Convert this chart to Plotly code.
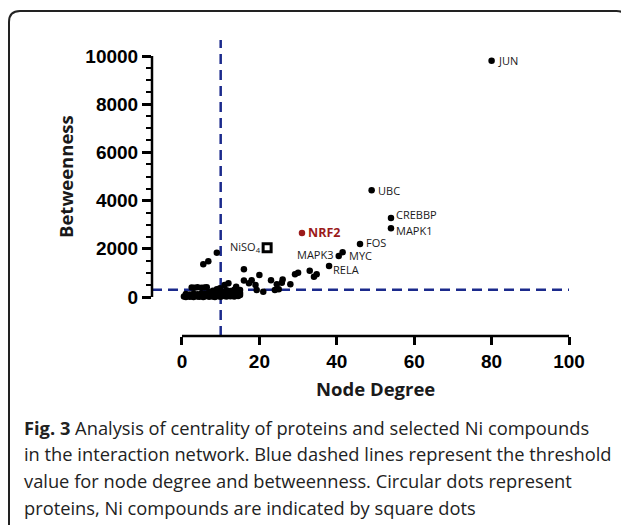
import plotly.graph_objects as go

# ---------------- data ----------------
# labelled proteins
lab_names = ["JUN", "UBC", "CREBBP", "MAPK1", "FOS", "MYC", "MAPK3", "RELA"]
lab_degree = [80, 49, 54, 54, 46, 41.5, 40.5, 38]
lab_betw = [9800, 4430, 3280, 2850, 2200, 1860, 1700, 1290]

# NRF2 (highlighted)
nrf2_degree = [31]
nrf2_betw = [2660]

# Ni compound (square)
ni_names = ["NiSO<sub>4</sub>"]
ni_degree = [22]
ni_betw = [2040]

# other proteins (unlabelled)
prot_degree = [9, 5.5, 6.8, 16, 20, 16, 18, 17.3, 19, 19.3, 23, 24.5, 24, 25,
               26, 25.8, 28, 29.2, 30, 33, 34.8, 34.1, 21, 15, 14.5, 14, 12, 11,
               9.8, 9, 8,
               2.5, 3.2, 4, 5, 5.8, 6.4,
               0.5, 1, 1.5, 2, 2.5, 3, 3.5, 4, 4.5, 5, 5.5, 6, 6.5, 7, 7.5, 8,
               8.5, 9, 9.5, 10, 10.5, 11, 11.5, 12, 12.5, 13, 13.5, 14, 14.5, 15,
               1, 2, 3, 4, 5, 6, 7, 8, 9, 10, 11, 12, 13, 14, 15,
               7, 8, 10.5, 11.5, 12.5, 13.5]
prot_betw = [1840, 1360, 1480, 1150, 910, 680, 700, 570, 500, 290, 700, 530, 290, 320,
             730, 590, 530, 940, 1010, 1090, 940, 840, 220, 290, 150, 430, 570, 500,
             360, 320, 260,
             390, 380, 400, 380, 390, 400,
             20, 0, 40, 10, 30, 0, 50, 20, 10, 40, 0, 30, 60, 10, 40, 20,
             0, 50, 30, 10, 60, 40, 20, 70, 30, 50, 20, 60, 40, 80,
             120, 100, 140, 110, 150, 120, 160, 130, 110, 150, 130, 160, 120, 140, 170,
             200, 240, 230, 280, 250, 300]

# thresholds
deg_threshold = 10
betw_threshold = 300

# axis ticks
y_ticks = [0, 2000, 4000, 6000, 8000, 10000]
y_minor = [500, 1000, 1500, 2500, 3000, 3500, 4500, 5000, 5500, 6500, 7000, 7500,
           8500, 9000, 9500]
x_ticks = [0, 20, 40, 60, 80, 100]

caption_lines = [
    "<b>Fig. 3</b> Analysis of centrality of proteins and selected Ni compounds",
    "in the interaction network. Blue dashed lines represent the threshold",
    "value for node degree and betweenness. Circular dots represent",
    "proteins, Ni compounds are indicated by square dots",
]

# label placement style (anchor side, x pixel shift, y pixel shift)
label_style = {
    "JUN": ("left", 5, 0), "UBC": ("left", 5, 0), "CREBBP": ("left", 4, 3),
    "MAPK1": ("left", 4, -2.5), "FOS": ("left", 5, 1), "MYC": ("left", 5, -3),
    "MAPK3": ("right", -4, 2), "RELA": ("left", 3, -4),
}

# ---------------- layout helpers ----------------
OFF = 8                      # page body margin
W, H = 629 - OFF, 525 - OFF
ML = 152 - OFF
MT = 40 - OFF
MB = H - (336 - OFF)
MR = W - (575 - OFF)
PW = W - ML - MR
PH = H - MT - MB
X_RANGE = [-7.75, 101.55]
Y_RANGE = [-1618, 10664]


def px_x(p):
    return (p - OFF - ML) / PW


def px_y(p):
    return (H - MB - (p - OFF)) / PH


BLUE = "#1b2a8c"
TXT = "#1a1a1a"
RED = "#9b1a1a"

fig = go.Figure()

fig.add_trace(go.Scatter(
    x=prot_degree, y=prot_betw, mode="markers",
    marker=dict(color="black", size=6.5), hoverinfo="skip", showlegend=False))

fig.add_trace(go.Scatter(
    x=lab_degree, y=lab_betw, mode="markers", text=lab_names,
    marker=dict(color="black", size=6.5), showlegend=False))

fig.add_trace(go.Scatter(
    x=nrf2_degree, y=nrf2_betw, mode="markers", text=["NRF2"],
    marker=dict(color=RED, size=6.5), showlegend=False))

fig.add_trace(go.Scatter(
    x=ni_degree, y=ni_betw, mode="markers", text=ni_names,
    marker=dict(symbol="square", color="white", size=8,
                line=dict(color="black", width=3)), showlegend=False))

annotations = []
for name, xv, yv in zip(lab_names, lab_degree, lab_betw):
    side, xs, ys = label_style[name]
    annotations.append(dict(text=name, x=xv, y=yv, xref="x", yref="y",
                            showarrow=False, xanchor=side, yanchor="middle",
                            xshift=xs, yshift=ys, borderpad=0,
                            font=dict(family="Open Sans", size=11, color=TXT)))
annotations.append(dict(text="<b>NRF2</b>", x=nrf2_degree[0], y=nrf2_betw[0],
                        xref="x", yref="y", showarrow=False, xanchor="left",
                        yanchor="middle", xshift=5, borderpad=0,
                        font=dict(family="Open Sans", size=12.5, color=RED)))
annotations.append(dict(text=ni_names[0], x=ni_degree[0], y=ni_betw[0],
                        xref="x", yref="y", showarrow=False, xanchor="right",
                        yanchor="middle", xshift=-5, yshift=1, borderpad=0,
                        font=dict(family="Open Sans", size=11, color=TXT)))

shapes = []
# threshold lines
shapes.append(dict(type="line", xref="x", yref="y", x0=X_RANGE[0], x1=x_ticks[-1],
                   y0=betw_threshold, y1=betw_threshold,
                   line=dict(color=BLUE, width=2.5, dash="10px,6px"), layer="below"))
shapes.append(dict(type="line", xref="x", yref="y", x0=deg_threshold, x1=deg_threshold,
                   y0=Y_RANGE[0], y1=Y_RANGE[1],
                   line=dict(color=BLUE, width=2.5, dash="10px,6px"), layer="below"))
# axis lines (Prism-style, offset)
shapes.append(dict(type="line", xref="paper", yref="y", x0=0, x1=0,
                   y0=y_ticks[0], y1=y_ticks[-1], line=dict(color="black", width=2.5)))
shapes.append(dict(type="line", xref="x", yref="paper", x0=x_ticks[0], x1=x_ticks[-1],
                   y0=0, y1=0, line=dict(color="black", width=2.5)))
# figure border (rounded box)
bx0, bx1, by0, by1, r = 9, 627.5, 11, 540, 11
path = (f"M {px_x(bx0)},{px_y(by1)} L {px_x(bx0)},{px_y(by0 + r)} "
        f"Q {px_x(bx0)},{px_y(by0)} {px_x(bx0 + r)},{px_y(by0)} "
        f"L {px_x(bx1 - r)},{px_y(by0)} "
        f"Q {px_x(bx1)},{px_y(by0)} {px_x(bx1)},{px_y(by0 + r)} "
        f"L {px_x(bx1)},{px_y(by1)}")
shapes.append(dict(type="path", xref="paper", yref="paper", path=path,
                   line=dict(color="#222222", width=2)))

annotations.append(dict(text="<b>Betweenness</b>", xref="paper", yref="paper",
                        x=px_x(65), y=px_y(177), textangle=-90, showarrow=False,
                        font=dict(family="Open Sans", size=18.5, color=TXT),
                        xanchor="center", yanchor="middle"))
annotations.append(dict(text="<b>Node Degree</b>", xref="paper", yref="paper",
                        x=px_x(375.5), y=px_y(388), showarrow=False,
                        font=dict(family="Open Sans", size=18.5, color=TXT),
                        xanchor="center", yanchor="middle"))
for i, line in enumerate(caption_lines):
    annotations.append(dict(text=line, xref="paper", yref="paper",
                            x=px_x(22), y=px_y(427 + i * 26.7), showarrow=False,
                            font=dict(family="Open Sans", size=18.3, color="#222222"),
                            xanchor="left", yanchor="middle", align="left"))

fig.update_layout(
    width=W, height=H,
    margin=dict(l=ML, r=MR, t=MT, b=MB, pad=0),
    paper_bgcolor="white", plot_bgcolor="white",
    shapes=shapes, annotations=annotations,
    xaxis=dict(range=X_RANGE, showgrid=False, zeroline=False, showline=False,
               tickvals=x_ticks, ticktext=[str(v) for v in x_ticks],
               ticks="outside", ticklen=8, tickwidth=2.5, tickcolor="black",
               tickfont=dict(family="Liberation Sans", size=19, color="black", weight="bold")),
    yaxis=dict(range=Y_RANGE, showgrid=False, zeroline=False, showline=False,
               tickvals=y_ticks, ticktext=[str(v) for v in y_ticks],
               ticks="outside", ticklen=9, tickwidth=2.5, tickcolor="black",
               minor=dict(tickvals=y_minor, ticks="outside", ticklen=5, tickwidth=2,
                          tickcolor="black", showgrid=False),
               tickfont=dict(family="Liberation Sans", size=19, color="black", weight="bold")),
)

fig.write_html("out.html")
